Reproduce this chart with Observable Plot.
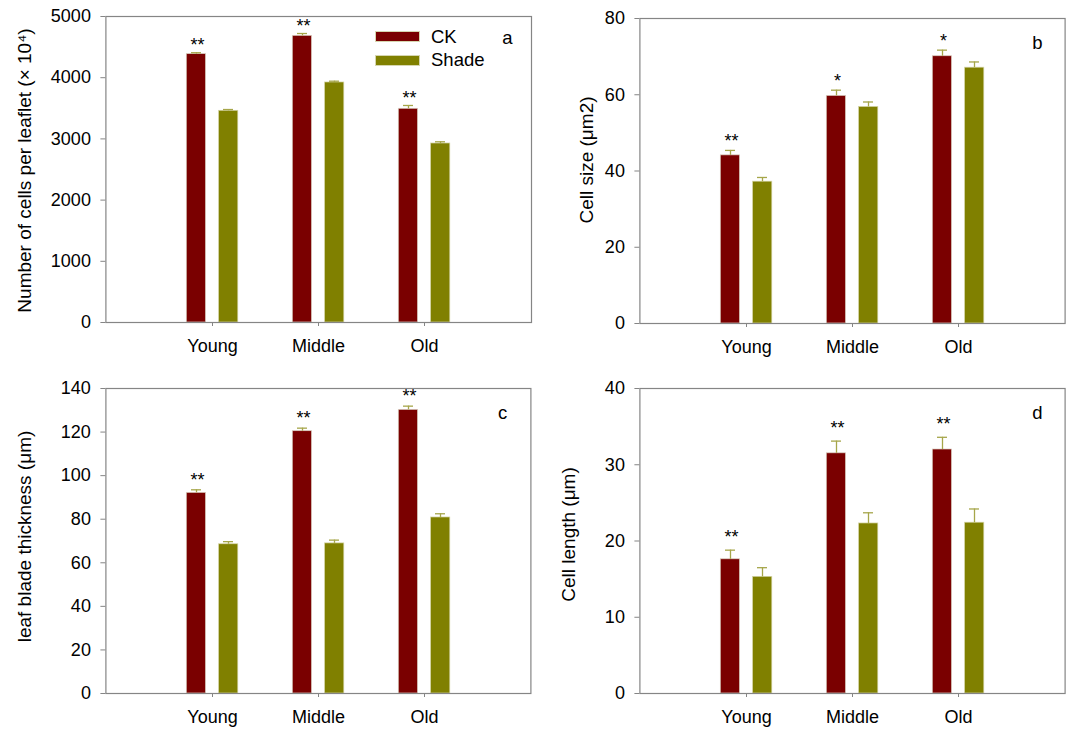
<!DOCTYPE html>
<html>
<head>
<meta charset="utf-8">
<script src="https://cdn.jsdelivr.net/npm/d3@7"></script>
<script src="https://cdn.jsdelivr.net/npm/@observablehq/plot@0.6"></script>
<style>
  body { margin: 0; background: #fff; }
  #wrap { position: relative; width: 1070px; height: 729px; background: #fff;
          font-family: "Liberation Sans", Arial, sans-serif; color: #000; overflow: hidden; }
  .legend { position: absolute; font-size: 18.5px; }
  .legend .row { position: absolute; display: flex; align-items: center; height: 20px; line-height: 20px; white-space: nowrap; }
  .legend .sw { width: 43px; height: 9px; border: 0.8px solid #d6d6b0; margin-right: 11px; }
</style>
</head>
<body>
<div id="wrap"></div>
<script>
// ---------- data ----------
const stages = ["Young", "Middle", "Old"];
const series = ["CK", "Shade"];
const seriesColors = ["#7a0000", "#808000"];

// (a) Number of cells per leaflet (x 10^4)
const cellsCK = [4385, 4684, 3492];
const cellsCKse = [23, 38, 54];
const cellsShade = [3459, 3922, 2925];
const cellsShadeSe = [21, 21, 28];
const cellsSig = ["**", "**", "**"];
const cellsTicks = [0, 1000, 2000, 3000, 4000, 5000];

// (b) Cell size (um2)
const sizeCK = [44.1, 59.7, 70.1];
const sizeCKse = [1.3, 1.5, 1.6];
const sizeShade = [37.2, 56.8, 67.1];
const sizeShadeSe = [1.1, 1.3, 1.5];
const sizeSig = ["**", "*", "*"];
const sizeTicks = [0, 20, 40, 60, 80];

// (c) leaf blade thickness (um)
const thickCK = [92.1, 120.4, 130.2];
const thickCKse = [1.4, 1.4, 1.7];
const thickShade = [68.5, 68.9, 80.8];
const thickShadeSe = [1.2, 1.5, 1.7];
const thickSig = ["**", "**", "**"];
const thickTicks = [0, 20, 40, 60, 80, 100, 120, 140];

// (d) Cell length (um)
const lengthCK = [17.6, 31.5, 32.0];
const lengthCKse = [1.2, 1.6, 1.6];
const lengthShade = [15.3, 22.3, 22.4];
const lengthShadeSe = [1.2, 1.4, 1.8];
const lengthSig = ["**", "**", "**"];
const lengthTicks = [0, 10, 20, 30, 40];

// ---------- drawing ----------
const FONT = "Liberation Sans, Arial, sans-serif";
const errColor = "#a6a64a";
const axisGray = "#858585";

function rowsOf(ck, ckSe, sh, shSe, sig) {
  const rows = [];
  stages.forEach((s, i) => {
    rows.push({stage: s, series: series[0], value: ck[i], se: ckSe[i], sig: sig[i]});
    rows.push({stage: s, series: series[1], value: sh[i], se: shSe[i], sig: ""});
  });
  return rows;
}

function panel(cfg) {
  const rows = rowsOf(cfg.ck, cfg.ckSe, cfg.sh, cfg.shSe, cfg.sig);
  const ckRows = rows.filter(d => d.series === series[0]);
  const shRows = rows.filter(d => d.series === series[1]);
  const ticks = cfg.ticks;
  return Plot.plot({
    width: cfg.width, height: cfg.height,
    marginLeft: cfg.ml, marginRight: cfg.mr, marginTop: cfg.mt, marginBottom: cfg.mb,
    style: {fontFamily: FONT, fontSize: "18px", color: "#000", background: "transparent", overflow: "visible"},
    x: {type: "band", domain: stages, paddingInner: 0, paddingOuter: 0.5, align: 0.5, axis: null},
    y: {domain: [ticks[0], ticks[ticks.length - 1]], axis: null},
    color: {domain: series, range: seriesColors},
    marks: [
      Plot.barY(ckRows, {x: "stage", y: "value", fill: "series", stroke: "#d9cfc0", strokeWidth: 0.7, insetLeft: 27.3, insetRight: 59.5}),
      Plot.barY(shRows, {x: "stage", y: "value", fill: "series", stroke: "#d4d4a6", strokeWidth: 0.7, insetLeft: 59.6, insetRight: 27.2}),
      Plot.ruleX(ckRows, {x: "stage", y1: "value", y2: d => d.value + d.se, dx: -16, stroke: errColor, strokeWidth: 1.3}),
      Plot.ruleX(shRows, {x: "stage", y1: "value", y2: d => d.value + d.se, dx: 16, stroke: errColor, strokeWidth: 1.3}),
      Plot.tickY(ckRows, {x: "stage", y: d => d.value + d.se, dx: -16, insetLeft: 48, insetRight: 48, stroke: errColor, strokeWidth: 1.3}),
      Plot.tickY(shRows, {x: "stage", y: d => d.value + d.se, dx: 16, insetLeft: 48, insetRight: 48, stroke: errColor, strokeWidth: 1.3}),
      Plot.text(ckRows, {x: "stage", y: d => d.value + d.se, text: "sig", dx: -15, dy: cfg.starDy, lineAnchor: "bottom", textAnchor: "middle", fontSize: 18, fill: "#000"}),
      Plot.frame({stroke: axisGray, strokeWidth: 1.2}),
      Plot.axisY({ticks: ticks, tickSize: 5, tickPadding: 10, tickFormat: d => String(d), label: null, stroke: axisGray, fill: "#000", fontSize: 18}),
      Plot.axisX({tickSize: 4, tickPadding: 13, label: null, stroke: axisGray, fill: "#000", fontSize: 18}),
      Plot.text([cfg.label], {frameAnchor: "left", text: d => d, rotate: -90, dx: cfg.labelDx, dy: cfg.labelDy, lineAnchor: "top", textAnchor: "middle", fontSize: 19, fill: "#000"}),
      Plot.text([cfg.letter], {frameAnchor: "top-right", text: d => d, dx: cfg.letterDx, dy: cfg.letterDy, lineAnchor: "bottom", textAnchor: "middle", fontSize: 18.5, fill: "#000"})
    ]
  });
}

const wrap = document.getElementById("wrap");
function place(svg, left, top) {
  svg.style.position = "absolute";
  svg.style.left = left + "px";
  svg.style.top = top + "px";
  wrap.appendChild(svg);
}

place(panel({
  ck: cellsCK, ckSe: cellsCKse, sh: cellsShade, shSe: cellsShadeSe, sig: cellsSig, ticks: cellsTicks,
  label: "Number of cells per leaflet (× 10⁴)", letter: "a",
  width: 535, height: 365, ml: 105.4, mr: 4, mt: 16, mb: 43,
  labelDx: -88.4, labelDy: 1, letterDx: -24, letterDy: 27, starDy: -1.5
}), 0, 0);

place(panel({
  ck: sizeCK, ckSe: sizeCKse, sh: sizeShade, shSe: sizeShadeSe, sig: sizeSig, ticks: sizeTicks,
  label: "Cell size (μm2)", letter: "b",
  width: 535, height: 365, ml: 104.4, mr: 5.4, mt: 18, mb: 42,
  labelDx: -60.5, labelDy: -11, letterDx: -27.7, letterDy: 30.3, starDy: -3
}), 535, 0);

place(panel({
  ck: thickCK, ckSe: thickCKse, sh: thickShade, shSe: thickShadeSe, sig: thickSig, ticks: thickTicks,
  label: "leaf blade thickness (μm)", letter: "c",
  width: 535, height: 364, ml: 105.4, mr: 4.6, mt: 23, mb: 36,
  labelDx: -88.2, labelDy: -4.5, letterDx: -28.4, letterDy: 30.3, starDy: -4
}), 0, 365);

place(panel({
  ck: lengthCK, ckSe: lengthCKse, sh: lengthShade, shSe: lengthShadeSe, sig: lengthSig, ticks: lengthTicks,
  label: "Cell length (μm)", letter: "d",
  width: 535, height: 364, ml: 104.4, mr: 5.4, mt: 23, mb: 36,
  labelDx: -78.4, labelDy: -6.5, letterDx: -27.7, letterDy: 30.3, starDy: -7
}), 535, 365);

// legend (panel a)
const legend = document.createElement("div");
legend.className = "legend";
legend.style.left = "375px";
legend.style.top = "0px";
series.forEach((s, i) => {
  const row = document.createElement("div");
  row.className = "row";
  row.style.left = "0px";
  row.style.top = (26.5 + i * 23.5) + "px";
  const sw = document.createElement("div");
  sw.className = "sw";
  sw.style.background = seriesColors[i];
  const t = document.createElement("span");
  t.textContent = s;
  row.appendChild(sw);
  row.appendChild(t);
  legend.appendChild(row);
});
wrap.appendChild(legend);
</script>
</body>
</html>
